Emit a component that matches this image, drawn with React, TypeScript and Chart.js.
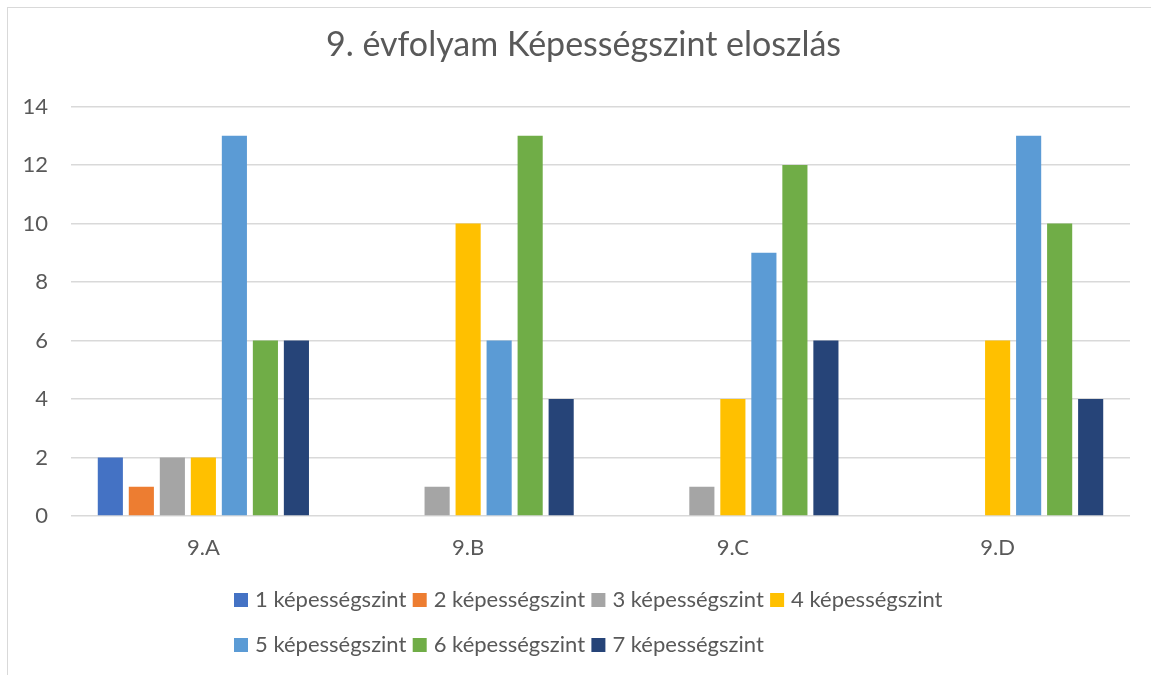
import React, { useEffect, useRef } from "react";
import { Chart, registerables } from "chart.js";

Chart.register(...registerables);

const chartTitle = "9. évfolyam Képességszint eloszlás";
const categories = ["9.A", "9.B", "9.C", "9.D"];
const seriesNames = [
  "1 képességszint",
  "2 képességszint",
  "3 képességszint",
  "4 képességszint",
  "5 képességszint",
  "6 képességszint",
  "7 képességszint",
];
const seriesColors = ["#4472C4", "#ED7D31", "#A5A5A5", "#FFC000", "#5B9BD5", "#70AD47", "#264478"];
const level1 = [2, 0, 0, 0];
const level2 = [1, 0, 0, 0];
const level3 = [2, 1, 1, 0];
const level4 = [2, 10, 4, 6];
const level5 = [13, 6, 9, 13];
const level6 = [6, 13, 12, 10];
const level7 = [6, 4, 6, 4];
const seriesValues = [level1, level2, level3, level4, level5, level6, level7];
const yTicks = [0, 2, 4, 6, 8, 10, 12, 14];

const FONT = "Lato, 'Open Sans', sans-serif";
const TEXT = "#595959";

const gridLegend = {
  id: "gridLegend",
  afterDraw(chart: any) {
    const ctx = chart.ctx;
    ctx.save();
    ctx.font = `22px ${FONT}`;
    ctx.textAlign = "left";
    ctx.textBaseline = "alphabetic";
    chart.data.datasets.forEach((ds: any, i: number) => {
      const col = i % 4;
      const row = Math.floor(i / 4);
      const x = 226 + col * 178.7;
      const boxTop = 585 + row * 45;
      ctx.fillStyle = ds.backgroundColor;
      ctx.fillRect(x, boxTop, 14, 14);
      ctx.fillStyle = TEXT;
      ctx.fillText(ds.label, x + 21, boxTop + 14);
    });
    ctx.restore();
  },
};

export default function App() {
  const ref = useRef<HTMLCanvasElement | null>(null);

  useEffect(() => {
    if (!ref.current) return;
    const chart = new Chart(ref.current, {
      type: "bar",
      data: {
        labels: categories,
        datasets: seriesNames.map((name, i) => ({
          label: name,
          data: seriesValues[i],
          backgroundColor: seriesColors[i],
          borderWidth: 0,
          categoryPercentage: 0.82,
          barPercentage: 0.81,
        })),
      },
      options: {
        animation: false,
        responsive: false,
        maintainAspectRatio: false,
        layout: { padding: { left: 0, right: 0, top: 0, bottom: 88 } },
        plugins: {
          legend: { display: false },
          tooltip: { enabled: false },
          title: {
            display: true,
            text: chartTitle,
            color: TEXT,
            font: { family: FONT, size: 34, weight: "normal" },
            padding: { top: 16.4, bottom: 41.4 },
          },
        },
        scales: {
          x: {
            grid: { display: false, drawTicks: false },
            border: { display: false },
            ticks: { color: TEXT, font: { family: FONT, size: 22 }, padding: 18.3 },
            afterFit: (scale: any) => {
              scale.height = 71;
            },
          },
          y: {
            min: 0,
            max: 14,
            afterBuildTicks: (scale: any) => {
              scale.ticks = yTicks.map((v) => ({ value: v }));
            },
            afterFit: (scale: any) => {
              scale.width = 63;
            },
            grid: { color: "#D9D9D9", lineWidth: 1.5, drawTicks: false },
            border: { display: false },
            ticks: { color: TEXT, font: { family: FONT, size: 22 }, padding: 23 },
          },
          rightSpace: {
            type: "linear",
            position: "right",
            display: true,
            grid: { display: false, drawTicks: false },
            border: { display: false },
            ticks: { display: false },
            afterFit: (scale: any) => {
              scale.width = 29;
            },
          },
        },
      },
      plugins: [gridLegend],
    });
    return () => chart.destroy();
  }, []);

  return (
    <div
      style={{
        position: "fixed",
        left: 0,
        top: 0,
        width: 1151,
        height: 675,
        overflow: "hidden",
        background: "#fff",
      }}
    >
      <div
        style={{
          position: "absolute",
          left: 7,
          top: 7,
          width: 1160,
          height: 700,
          border: "1px solid #D9D9D9",
          boxSizing: "border-box",
        }}
      />
      <canvas
        ref={ref}
        width={1151}
        height={667}
        style={{ position: "absolute", left: 8, top: 8, width: 1151, height: 667 }}
      />
    </div>
  );
}
